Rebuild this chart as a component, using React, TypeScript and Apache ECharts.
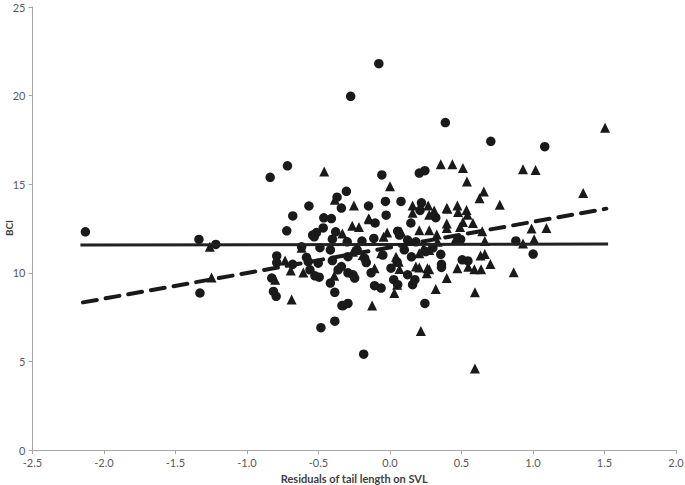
import React, { useEffect, useRef } from "react";
import * as echarts from "echarts";

// Axis ticks
const xTicks = { min: -2.5, max: 2.0, interval: 0.5 };
const yTicks = { min: 0, max: 25, interval: 5 };

const xAxisTitle = "Residuals of tail length on SVL";
const yAxisTitle = "BCI";

// Group 1 (circles)
const circles: number[][] = [
  [-2.13, 12.31], [-1.336, 11.88], [-1.329, 8.86], [-1.218, 11.6],
  [-0.078, 21.8], [-0.275, 19.96], [0.387, 18.48], [0.705, 17.42], [1.082, 17.12],
  [1.001, 11.06], [0.88, 11.8],
  [-0.717, 16.04], [-0.838, 15.39], [-0.305, 14.6], [-0.37, 14.27], [-0.057, 15.52],
  [-0.032, 14.03], [-0.567, 13.77], [-0.34, 13.65], [-0.15, 13.77], [-0.68, 13.21],
  [-0.027, 13.25], [-0.463, 13.1], [-0.41, 13.06], [-0.104, 12.81], [-0.722, 12.37],
  [-0.467, 12.53], [-0.514, 12.27], [-0.541, 12.13], [-0.38, 12.31], [-0.53, 12.03],
  [-0.403, 11.9], [-0.299, 11.75], [-0.196, 11.79], [-0.113, 11.94], [0.054, 12.35],
  [0.066, 12.13], [0.205, 15.63], [0.244, 15.76], [0.077, 14.03], [0.22, 13.95],
  [0.21, 13.52], [0.32, 13.11], [0.146, 12.81], [0.123, 11.85], [0.181, 11.75],
  [0.494, 11.88],
  [-0.618, 11.47], [-0.49, 11.42], [-0.417, 11.29], [-0.792, 10.95], [-0.792, 10.58],
  [-0.681, 10.48], [-0.584, 10.87], [-0.572, 10.63], [-0.502, 10.54], [-0.403, 10.69],
  [-0.363, 10.17], [-0.56, 10.17], [-0.525, 9.83], [-0.495, 9.75], [-0.827, 9.7],
  [-0.417, 9.42], [-0.386, 8.9], [-0.815, 8.95], [-0.796, 8.67], [-0.328, 8.15],
  [-0.294, 8.27], [-0.386, 7.27], [-0.483, 6.9], [-0.294, 10.0], [-0.259, 9.89],
  [-0.247, 9.7], [-0.177, 10.82], [-0.166, 10.58], [-0.132, 10.0], [-0.108, 9.27],
  [-0.062, 9.14], [0.007, 10.26], [0.026, 9.61], [0.054, 9.33], [-0.184, 5.41],
  [-0.294, 10.91], [-0.34, 10.35], [-0.336, 8.15],
  [0.505, 10.73], [0.545, 10.67], [0.36, 10.48], [0.36, 10.3], [0.355, 11.04],
  [0.123, 9.89], [0.158, 9.33], [0.174, 9.61], [0.244, 8.27], [0.15, 10.9],
  [0.25, 11.2], [0.3, 11.4], [0.05, 10.6], [0.1, 11.3], [-0.05, 11.0], [-0.23, 11.3],
];

// Group 2 (triangles)
const triangles: number[][] = [
  [-1.26, 11.47], [-1.248, 9.74],
  [1.504, 18.19], [1.018, 15.8], [1.351, 14.51], [0.99, 12.5], [1.094, 12.53],
  [1.008, 11.9], [0.93, 15.85], [0.355, 16.13], [0.436, 16.13], [0.51, 15.91],
  [0.538, 15.15], [0.656, 14.59], [0.626, 14.21], [0.768, 13.84], [0.397, 13.65],
  [0.471, 13.8], [0.476, 13.43], [0.535, 13.54], [0.542, 13.28], [0.397, 12.78],
  [0.397, 12.53], [0.51, 12.87], [0.58, 12.81], [0.49, 12.59], [0.645, 12.35],
  [0.663, 11.79], [0.93, 11.66], [0.633, 10.97], [0.663, 11.06], [0.702, 10.5],
  [0.471, 10.26], [0.547, 10.34], [0.59, 10.2], [0.637, 10.2], [0.865, 10.03],
  [0.397, 9.7], [0.594, 8.9], [0.46, 11.94], [0.32, 9.08], [0.216, 6.72], [0.594, 4.6],
  [-0.46, 15.72], [0.0, 14.88], [-0.386, 14.12], [-0.252, 13.8], [-0.15, 13.06],
  [-0.264, 12.65], [-0.217, 12.59], [-0.333, 12.22], [-0.045, 12.04], [-0.02, 12.27],
  [0.158, 13.8], [0.267, 13.8], [0.309, 13.52], [0.401, 13.61], [0.158, 13.39],
  [0.274, 13.28], [0.077, 12.31], [0.205, 12.4], [0.274, 12.4], [0.327, 12.16],
  [-0.618, 11.42], [-0.734, 10.69], [-0.606, 10.02], [-0.803, 9.61], [-0.688, 8.49],
  [-0.125, 8.15], [0.03, 8.86], [-0.26, 11.19], [-0.19, 11.0], [-0.062, 11.1],
  [-0.108, 10.26], [-0.39, 9.83], [0.181, 10.35], [0.257, 9.98], [0.274, 10.2],
  [0.05, 9.33], [0.235, 11.42], [0.274, 11.29], [0.205, 11.1], [0.333, 11.75],
  [0.042, 10.91], [0.061, 10.63], [0.066, 10.22], [0.205, 10.3], [0.262, 10.26],
  [-0.145, 13.02], [-0.694, 10.13],
];

// Fitted lines (end points)
const solidFit: number[][] = [[-2.165, 11.57], [1.525, 11.62]];
const dashedFit: number[][] = [[-2.147, 8.33], [1.513, 13.62]];

const FONT = "Lato, 'Noto Sans', sans-serif";

export default function App() {
  const ref = useRef<HTMLDivElement>(null);
  useEffect(() => {
    if (!ref.current) return;
    const chart = echarts.init(ref.current, undefined, { renderer: "svg" });
    const axisLineStyle = { color: "#a6a6a6", width: 1 };
    chart.setOption({
      animation: false,
      backgroundColor: "#ffffff",
      grid: {
        left: 32.5, right: 9, top: 7, bottom: 35,
        containLabel: false, outerBoundsMode: "none",
      },
      graphic: [
        {
          type: "text",
          x: 9,
          y: 228,
          rotation: Math.PI / 2,
          style: {
            text: yAxisTitle,
            fontFamily: FONT,
            fontSize: 10,
            fontWeight: "bold",
            fill: "#404040",
            align: "center",
            verticalAlign: "middle",
          },
        },
      ],
      xAxis: {
        type: "value",
        min: xTicks.min,
        max: xTicks.max,
        interval: xTicks.interval,
        name: xAxisTitle,
        nameLocation: "middle",
        nameGap: 20,
        nameTextStyle: { fontFamily: FONT, fontSize: 11, fontWeight: "bold", color: "#404040" },
        axisLine: { show: true, onZero: false, lineStyle: axisLineStyle },
        axisTick: { show: true, length: 4, lineStyle: axisLineStyle },
        axisLabel: {
          fontFamily: FONT, fontSize: 11, color: "#595959", margin: 7,
          formatter: (v: number) => v.toFixed(1),
        },
        splitLine: { show: false },
      },
      yAxis: {
        type: "value",
        min: yTicks.min,
        max: yTicks.max,
        interval: yTicks.interval,
        axisLine: { show: true, onZero: false, lineStyle: axisLineStyle },
        axisTick: { show: true, length: 4, lineStyle: axisLineStyle },
        axisLabel: { fontFamily: FONT, fontSize: 11, color: "#595959", margin: 7 },
        splitLine: { show: false },
      },
      series: [
        {
          type: "scatter",
          data: circles,
          symbol: "circle",
          symbolSize: 9.5,
          itemStyle: { color: "#1a1a1a", opacity: 1 },
          z: 2,
        },
        {
          type: "scatter",
          data: triangles,
          symbol: "triangle",
          symbolSize: 10,
          itemStyle: { color: "#1a1a1a", opacity: 1 },
          z: 2,
        },
        {
          type: "line",
          data: solidFit,
          showSymbol: false,
          symbol: "none",
          lineStyle: { color: "#222222", width: 3 },
          z: 3,
        },
        {
          type: "line",
          data: dashedFit,
          showSymbol: false,
          symbol: "none",
          lineStyle: { color: "#1a1a1a", width: 4, type: [14, 9], cap: "round" },
          z: 3,
        },
      ],
    });
    return () => chart.dispose();
  }, []);
  return (
    <div
      ref={ref}
      style={{ position: "fixed", left: 0, top: 0, width: 685, height: 485, background: "#fff" }}
    />
  );
}
